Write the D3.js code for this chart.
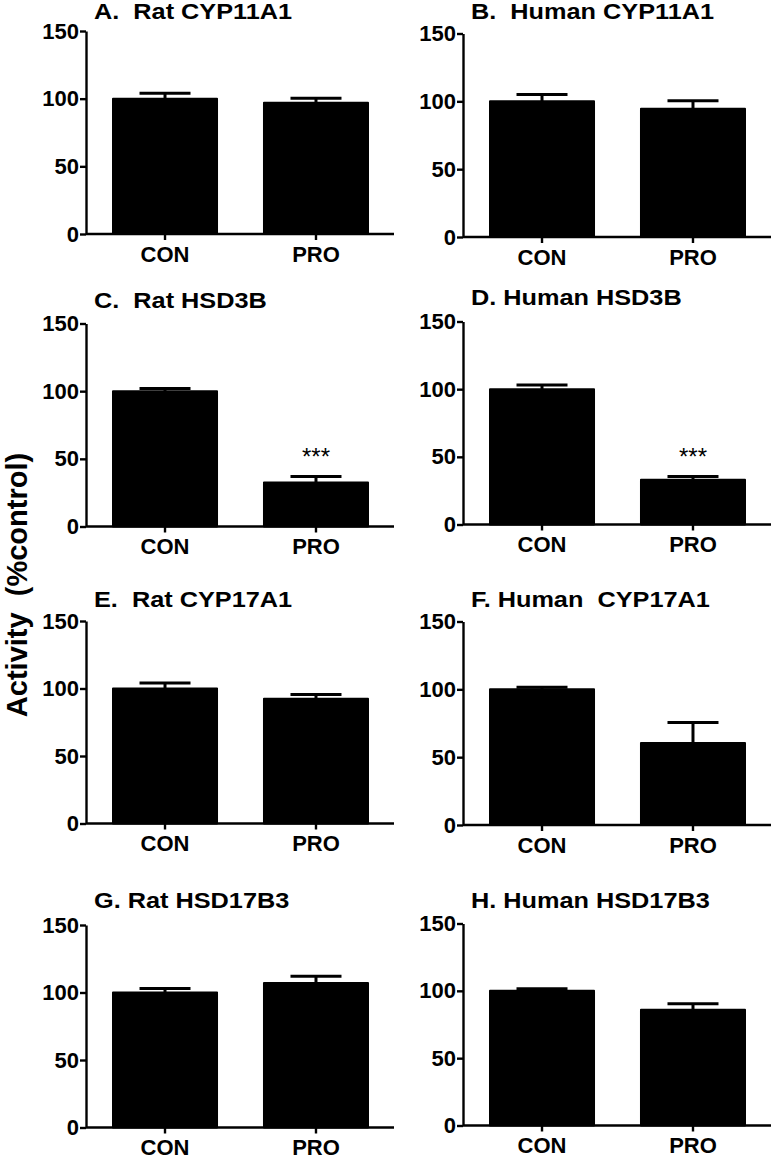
<!DOCTYPE html>
<html>
<head>
<meta charset="utf-8">
<script src="https://cdn.jsdelivr.net/npm/d3@7"></script>
<style>
body { margin: 0; background: #fff; }
text { font-family: "Liberation Sans", Arial, sans-serif; font-weight: bold; fill: #000; white-space: pre; }
</style>
</head>
<body>
<svg id="chart" width="772" height="1156"></svg>
<script>
var groups = ["CON", "PRO"];
var titles = [
    "A.  Rat CYP11A1", "B.  Human CYP11A1",
    "C.  Rat HSD3B", "D. Human HSD3B",
    "E.  Rat CYP17A1", "F. Human  CYP17A1",
    "G. Rat HSD17B3", "H. Human HSD17B3"
];
var conMean = [100, 100, 100, 100, 100, 100, 100, 100];
var conErr  = [4, 5, 2, 3, 4, 1.5, 3, 1.5];
var proMean = [97, 94.5, 32.5, 33, 92.5, 60.5, 107, 86];
var proErr  = [3.3, 6, 4.5, 2.5, 3, 15, 5, 4.5];
var proSig  = ["", "", "***", "***", "", "", "", ""];
var yTicks  = [0, 50, 100, 150];
var yLabel  = "Activity  (%control)";

// where each panel sits: x of the y axis, pixel rows of 0 and 150, title baseline
var layout = [
    {x: 86,  y0: 234,    y1: 31,    ty: 18.5},
    {x: 463, y0: 237,    y1: 33.5,  ty: 19},
    {x: 86,  y0: 526.5,  y1: 323.5, ty: 307.5},
    {x: 463, y0: 524.5,  y1: 321.5, ty: 305},
    {x: 86,  y0: 823.5,  y1: 621,   ty: 606.5},
    {x: 463, y0: 825,    y1: 621.5, ty: 606.5},
    {x: 86,  y0: 1127.5, y1: 925,   ty: 907.5},
    {x: 463, y0: 1125.5, y1: 923.5, ty: 907.5}
];

var svg = d3.select("#chart");

svg.append("text")
    .attr("transform", "translate(27,585) rotate(-90)")
    .attr("text-anchor", "middle")
    .style("font-size", "29px")
    .text(yLabel);

titles.forEach(function(title, i)
{
    var L = layout[i];
    var g = svg.append("g");

    var x = d3.scaleBand()
        .domain(groups)
        .range([L.x + 27, L.x + 282])
        .paddingInner(0.311)
        .paddingOuter(0);

    var y = d3.scaleLinear()
        .domain([0, 150])
        .range([L.y0, L.y1]);

    var rows = [
        {group: "CON", mean: conMean[i], err: conErr[i], sig: ""},
        {group: "PRO", mean: proMean[i], err: proErr[i], sig: proSig[i]}
    ];

    // bars
    g.selectAll(".bar").data(rows).enter().append("rect")
        .attr("x", function(d) { return x(d.group); })
        .attr("y", function(d) { return y(d.mean); })
        .attr("width", x.bandwidth())
        .attr("height", function(d) { return y(0) - y(d.mean); })
        .attr("fill", "#000")
        .attr("stroke", "#000")
        .attr("stroke-width", 2)
        .attr("stroke-linejoin", "round");

    // upper error bars
    var cx = function(d) { return x(d.group) + x.bandwidth() / 2; };
    g.selectAll(".stem").data(rows).enter().append("line")
        .attr("x1", cx).attr("x2", cx)
        .attr("y1", function(d) { return y(d.mean); })
        .attr("y2", function(d) { return y(d.mean + d.err); })
        .attr("stroke", "#000").attr("stroke-width", 3);
    g.selectAll(".cap").data(rows).enter().append("line")
        .attr("x1", function(d) { return cx(d) - 25.5; })
        .attr("x2", function(d) { return cx(d) + 25.5; })
        .attr("y1", function(d) { return y(d.mean + d.err); })
        .attr("y2", function(d) { return y(d.mean + d.err); })
        .attr("stroke", "#000").attr("stroke-width", 3);

    // significance stars
    g.selectAll(".sig").data(rows.filter(function(d) { return d.sig; })).enter().append("text")
        .attr("x", cx)
        .attr("y", function(d) { return y(d.mean + d.err) - 11; })
        .attr("text-anchor", "middle")
        .style("font-size", "24px")
        .style("font-weight", "normal")
        .text(function(d) { return d.sig; });

    // y axis
    var ya = g.append("g")
        .attr("transform", "translate(" + L.x + ",0)")
        .call(d3.axisLeft(y).tickValues(yTicks).tickSize(6).tickSizeOuter(0).tickPadding(1));

    // x axis
    var xa = g.append("g")
        .attr("transform", "translate(0," + L.y0 + ")")
        .call(d3.axisBottom(x).tickSize(6).tickSizeOuter(0).tickPadding(6));
    xa.select(".domain").remove();
    xa.append("line")
        .attr("x1", L.x).attr("x2", L.x + 308)
        .attr("stroke", "#000").attr("stroke-width", 2.4);

    [ya, xa].forEach(function(a)
    {
        a.attr("font-family", null).attr("font-size", null);
        a.selectAll("path, line").attr("stroke", "#000").attr("stroke-width", 2.4);
        a.selectAll("text").style("font-size", "22px").attr("fill", "#000");
    });

    // panel title, drawn a little wide like the original lettering
    g.append("text")
        .attr("transform", "translate(" + (L.x + 8) + "," + L.ty + ") scale(1.15,1)")
        .style("font-size", "22px")
        .text(title);
});
</script>
</body>
</html>
